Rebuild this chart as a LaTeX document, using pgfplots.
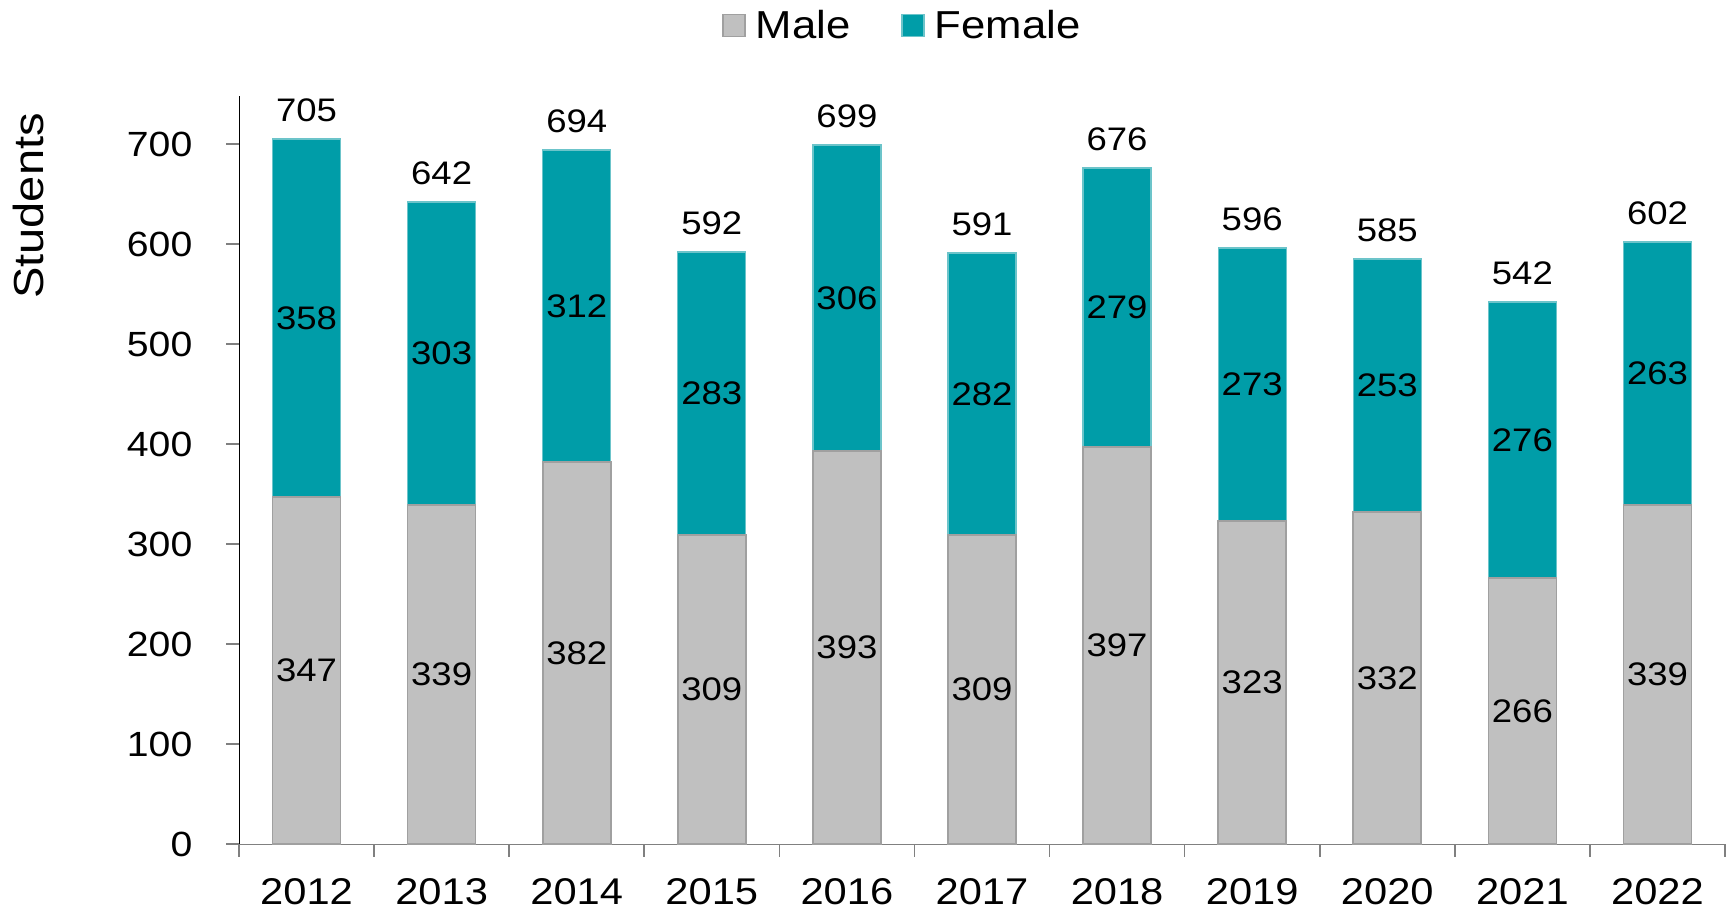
\documentclass[border=0pt]{standalone}
\usepackage{pgfplots}
\pgfplotsset{compat=1.18}
\usepackage{pgfplotstable}
\usepackage{fontspec}
\setmainfont{Liberation Sans}[FakeStretch=1.12]
\definecolor{maleGrey}{HTML}{C0C0C0}
\definecolor{maleEdge}{HTML}{A0A0A0}
\definecolor{femTeal}{HTML}{009DA8}
\definecolor{femEdge}{HTML}{6CC4CA}
\pgfplotstableread{
x male female total
0 347 358 705
1 339 303 642
2 382 312 694
3 309 283 592
4 393 306 699
5 309 282 591
6 397 279 676
7 323 273 596
8 332 253 585
9 266 276 542
10 339 263 602
}\data
% label positions (middle of each segment)
\pgfplotstableread{
x mmid fmid male female total
0 173.5 526 347 358 705
1 169.5 490.5 339 303 642
2 191 538 382 312 694
3 154.5 450.5 309 283 592
4 196.5 546 393 306 699
5 154.5 450 309 282 591
6 198.5 536.5 397 279 676
7 161.5 459.5 323 273 596
8 166 458.5 332 253 585
9 133 404 266 276 542
10 169.5 470.5 339 263 602
}\labels
\pgfplotsset{common/.style={
  at={(119.5pt,33pt)}, anchor=south west,
  scale only axis, width=743pt, height=374pt,
  xmin=-0.5, xmax=10.5, ymin=0, ymax=748, clip=false}}
\begin{document}
\begin{tikzpicture}
\path[use as bounding box] (0,0) rectangle (865.5pt,455pt);
\begin{axis}[
  common,
  ybar stacked, bar width=34pt,
  axis lines*=left,
  x axis line style={draw=gray},
  y axis line style={draw=black},
  xtick={0,...,10},
  xticklabels={2012,2013,2014,2015,2016,2017,2018,2019,2020,2021,2022},
  minor xtick={-0.5,0.5,...,10.5},
  major x tick style={draw=none},
  minor x tick style={draw=gray, thick},
  minor tick length=6.3pt,
  ytick={0,100,...,700},
  y tick style={draw=gray, thick},
  major tick length=6.3pt,
  tick align=outside,
  tick pos=left,
  /pgf/number format/assume math mode=true,
  xticklabel style={font=\fontsize{18.6}{18.6}\selectfont, yshift=-7.5pt},
  yticklabel style={font=\fontsize{17.5}{17.5}\selectfont, xshift=-13.5pt},
  legend style={at={(0.447,1.094)}, anchor=center, draw=none, fill=none,
    legend columns=2, font=\fontsize{19.5}{19.5}\selectfont,
    /tikz/every odd column/.append style={column sep=3pt},
    /tikz/every even column/.append style={column sep=23.5pt}},
  legend image code/.code={\draw[#1] (0pt,-5.5pt) rectangle (11pt,5.5pt);},
]
\addplot[fill=maleGrey, draw=maleEdge, line width=0.8pt]
  table[x=x, y=male]{\data};
\addlegendentry{Male}
\addplot[fill=femTeal, draw=femEdge, line width=0.6pt]
  table[x=x, y=female]{\data};
\addlegendentry{Female}
\end{axis}
\begin{axis}[common, hide axis,
  nodes near coords, point meta=explicit symbolic,
  every node near coord/.append style={anchor=center, font=\fontsize{16.3}{16.3}\selectfont}]
\addplot[only marks, mark=none] table[x=x, y=mmid, meta=male]{\labels};
\addplot[only marks, mark=none] table[x=x, y=fmid, meta=female]{\labels};
\addplot[only marks, mark=none, every node near coord/.append style={yshift=14.3pt}]
  table[x=x, y=total, meta=total]{\labels};
\end{axis}
\node[rotate=90, font=\fontsize{21}{21}\selectfont] at (14pt,352pt) {Students};
\end{tikzpicture}
\end{document}
